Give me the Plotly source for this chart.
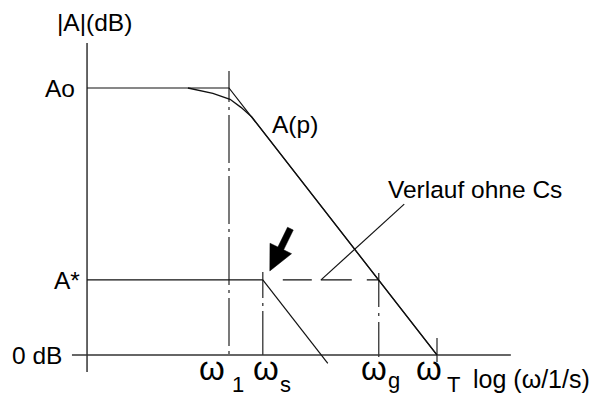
import math
import plotly.graph_objects as go

# ---------------- data: x = log10(ω / (1/s)), y = |A| in dB ----------------
A0_DB = 80.0                      # open-loop gain Ao
A_STAR_DB = 22.5                  # A*
omega_subs = ["1", "s", "g", "T"]
omega_log = [2.0, 2.65, 4.88, 6.0]  # ω1, ωs, ωg, ωT

# asymptote (Bode straight-line approximation)
asym_log = [-0.73, 2.0, 6.0]
asym_db = [80.0, 80.0, 0.0]

# real frequency response A(p)
ap_log = [1.21, 1.69, 2.02, 2.23, 2.44, 4.88, 6.0]
ap_db = [80.0, 78.4, 76.6, 74.2, 71.3, 22.4, 0.0]

# response with Cs: flat at A* up to ωs, then falling
cs_flat_log = [-0.73, 2.65]
cs_flat_db = [22.5, 22.5]
cs_fall_log = [2.65, 3.90]
cs_fall_db = [22.5, -2.5]
cs_dash_log = [2.65, 4.88]
cs_dash_db = [22.5, 22.5]

# pointer line for "Verlauf ohne Cs"
ohne_log = [3.77, 5.37]
ohne_db = [22.5, 45.2]

# axes extents
yaxis_log = [-0.73, -0.73]
yaxis_db = [93.5, -5.1]
zero_log = [-1.02, 7.42]
zero_db = [0.0, 0.0]

# vertical marker lines (top, bottom) in dB for ω1, ωs, ωg, ωT
marker_top_db = [85.1, 24.9, 24.6, 5.1]
marker_bot_db = [-0.6, 0.0, -0.6, -2.1]

# ---------------- layout scale (pixels) ----------------
W, H = 596, 399
PX_PER_DEC = 52.0
PX_PER_DB = 3.3375
X_W1_PX = 229.0
Y_0DB_PX = 355.0


def lx(px):
    return omega_log[0] + (px - X_W1_PX) / PX_PER_DEC


def ldb(py):
    return (Y_0DB_PX - py) / PX_PER_DB


def px_of(l):
    return X_W1_PX + (l - omega_log[0]) * PX_PER_DEC


def py_of(db):
    return Y_0DB_PX - db * PX_PER_DB


FONT = "Liberation Sans, Arial, sans-serif"
LINE = "#111111"
AXIS = "#333333"

fig = go.Figure()


def add_line(xs, ys, color=LINE, width=1.2, dash="solid"):
    fig.add_trace(go.Scatter(x=xs, y=ys, mode="lines",
                             line=dict(color=color, width=width, dash=dash),
                             hoverinfo="skip", showlegend=False))


# axes
add_line(yaxis_log, yaxis_db, AXIS, 1.5)
add_line(zero_log, zero_db, AXIS, 1.5)

# vertical markers
marker_dash = [
    "31px,5px,3px,5px,48px,5px,3px,5px,48px,5px,3px,5px,48px,5px,3px,5px,48px,5px,3px,5px",
    "26px,5px,3px,5px,60px",
    "34px,6px,3px,6px,50px",
    "solid",
]
for lg, t, b, d in zip(omega_log, marker_top_db, marker_bot_db, marker_dash):
    add_line([lg, lg], [t, b], AXIS, 1.3, d)

# curves
add_line(asym_log, asym_db, LINE, 1.2)
add_line(ap_log, ap_db, LINE, 1.3)
add_line(cs_flat_log, cs_flat_db, LINE, 1.3)
add_line(cs_fall_log, cs_fall_db, LINE, 1.2)
add_line(cs_dash_log, cs_dash_db, LINE, 1.3, "0px,20px,29px,9px,31px,15px,20px,10px")
add_line(ohne_log, ohne_db, LINE, 1.2)

# filled arrow pointing at (ωs, A*)
tip = (px_of(omega_log[1]) + 7, py_of(A_STAR_DB) - 9)
ang = math.radians(64)
u = (-math.cos(ang), math.sin(ang))   # direction tail -> tip (screen coords)
n = (u[1], -u[0])
head_len, head_hw, shaft_hw, total = 25, 12, 3.2, 47
bx, by = tip[0] - head_len * u[0], tip[1] - head_len * u[1]
cx, cy = tip[0] - total * u[0], tip[1] - total * u[1]
pts = [
    tip,
    (bx + head_hw * n[0], by + head_hw * n[1]),
    (bx + shaft_hw * n[0], by + shaft_hw * n[1]),
    (cx + shaft_hw * n[0], cy + shaft_hw * n[1]),
    (cx - shaft_hw * n[0], cy - shaft_hw * n[1]),
    (bx - shaft_hw * n[0], by - shaft_hw * n[1]),
    (bx - head_hw * n[0], by - head_hw * n[1]),
]
path = "M " + " L ".join(f"{lx(p[0]):.4f},{ldb(p[1]):.4f}" for p in pts) + " Z"
fig.add_shape(type="path", path=path, xref="x", yref="y",
              fillcolor="black", line=dict(color="black", width=0.5))

# ---------------- text ----------------
def ann(text, x, y, size=24, xanchor="center", yanchor="middle"):
    fig.add_annotation(text=text, x=x, y=y, xref="x", yref="y",
                       showarrow=False, xanchor=xanchor, yanchor=yanchor,
                       font=dict(family=FONT, size=size, color="black"))


ann("|A|(dB)", lx(94), ldb(22), size=24.5)
ann("Ao", lx(77), A0_DB, size=24.5, xanchor="right")
ann("A*", lx(82), A_STAR_DB - 0.3, size=24.5, xanchor="right")
ann("0 dB", lx(64), 0.0, size=24.5, xanchor="right")
ann("A(p)", lx(270), ldb(124), size=24.5, xanchor="left")
ann("Verlauf ohne Cs", lx(386), ldb(189), size=24.5, xanchor="left")

omega_dx = [-17.5, 3.0, -4.5, -8.5]     # ω glyph centre offset from marker (px)
sub_dx = [1.0, 15.0, 7.0, 8.0]           # subscript left edge offset from marker (px)
sub_y = [384, 384, 380, 384]             # subscript centre (px)
for lg, s, odx, sdx, sy in zip(omega_log, omega_subs, omega_dx, sub_dx, sub_y):
    ann("ω", lx(px_of(lg) + odx), ldb(368), size=33)
    ann(s, lx(px_of(lg) + sdx), ldb(sy), size=22, xanchor="left")

ann("log (ω/1/s)", lx(471), ldb(379), size=25, xanchor="left")

fig.update_layout(
    width=W, height=H,
    margin=dict(l=0, r=0, t=0, b=0),
    paper_bgcolor="white", plot_bgcolor="white",
    showlegend=False,
    xaxis=dict(range=[lx(0), lx(W)], visible=False, fixedrange=True),
    yaxis=dict(range=[ldb(H), ldb(0)], visible=False, fixedrange=True),
)

fig.write_html("out.html")
